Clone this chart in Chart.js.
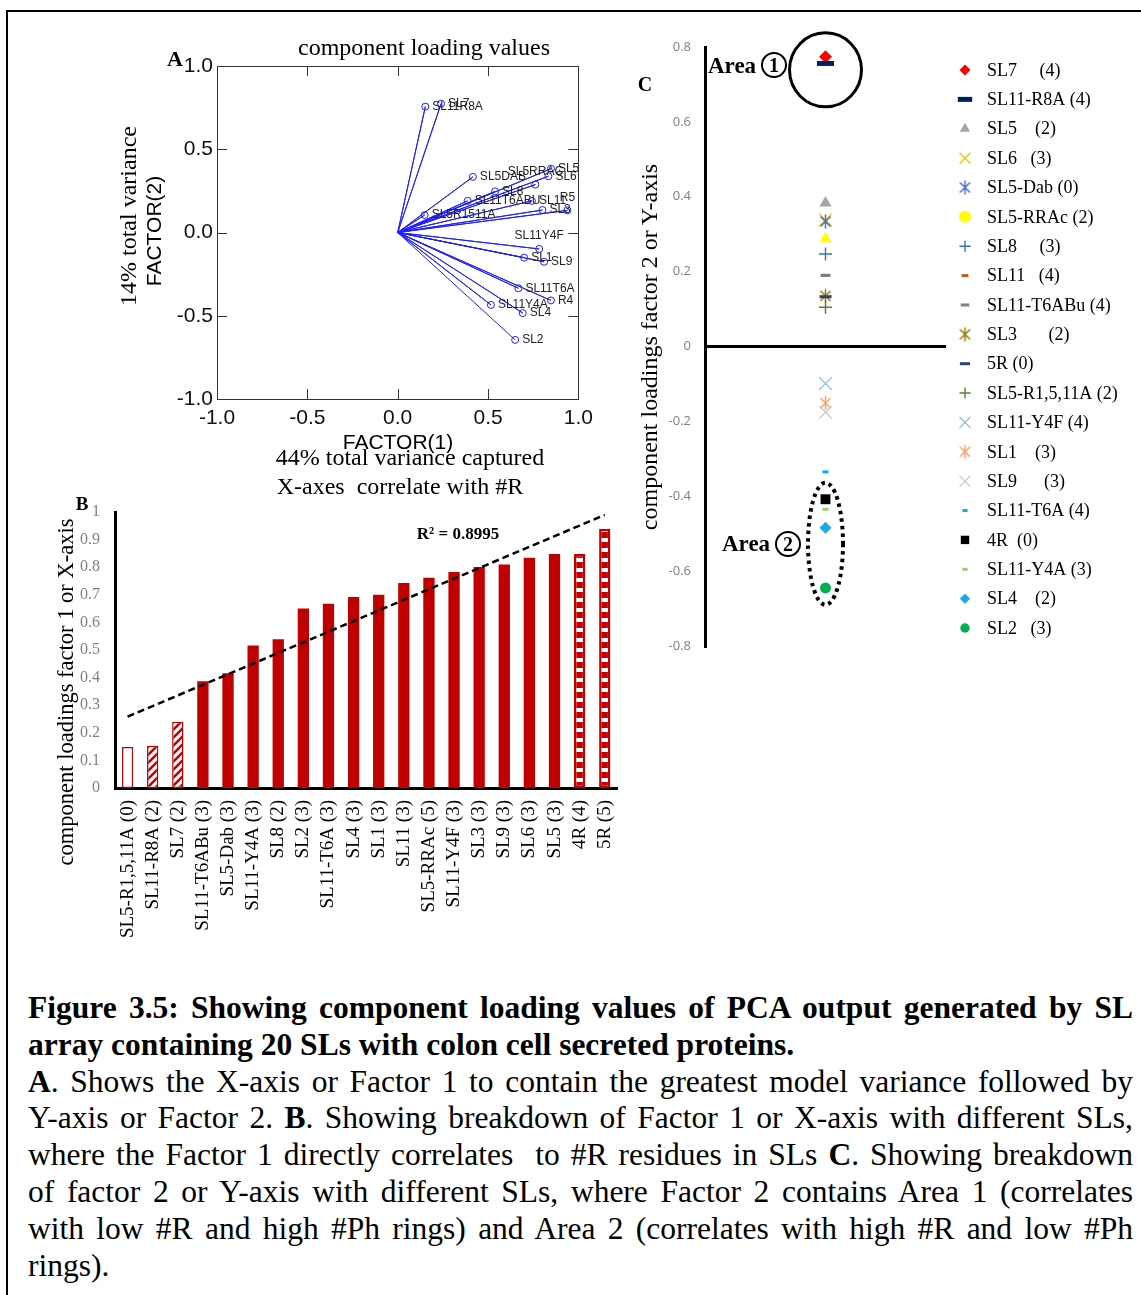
<!DOCTYPE html>
<html>
<head>
<meta charset="utf-8">
<script src="https://cdn.jsdelivr.net/npm/chart.js@4.4.1/dist/chart.umd.min.js"></script>
<style>
html,body{margin:0;padding:0;background:#fff;}
body{width:1141px;height:1295px;position:relative;overflow:hidden;}
#frame{position:absolute;left:6px;top:10px;width:1300px;height:1400px;border:2.5px solid #000;}
canvas{position:absolute;}
.t{position:absolute;white-space:pre;line-height:1;color:#000;font-family:"Liberation Serif","Times New Roman",serif;}
.c{transform:translate(-50%,-50%);}
.r{transform:translate(-50%,-50%) rotate(-90deg);}
.sans{font-family:"Liberation Sans",Arial,sans-serif;}
.b{font-weight:bold;}
.circ{position:absolute;width:26px;height:26px;border:2px solid #000;border-radius:50%;box-sizing:border-box;transform:translate(-50%,-50%);font:bold 20px "Liberation Serif",serif;text-align:center;line-height:22px;}
#cap{position:absolute;left:28px;top:990px;width:1105px;font-family:"Liberation Serif","Times New Roman",serif;font-size:31.5px;line-height:36.8px;color:#000;}
#cap .j{text-align:justify;text-align-last:justify;}
</style>
</head>
<body>
<div id="frame"></div>
<canvas id="ca" width="500" height="440" style="left:100px;top:20px"></canvas>
<canvas id="cb" width="600" height="460" style="left:40px;top:495px"></canvas>
<canvas id="cc" width="511" height="640" style="left:630px;top:30px"></canvas>

<div class="t c" style="left:424px;top:47px;font-size:24px">component loading values</div>
<div class="t c b" style="left:175px;top:59px;font-size:22px">A</div>
<div class="t c sans" style="left:398px;top:441px;font-size:21px">FACTOR(1)</div>
<div class="t c" style="left:410px;top:457px;font-size:24px">44% total variance captured</div>
<div class="t c" style="left:400px;top:486px;font-size:24px">X-axes  correlate with #R</div>
<div class="t r sans" style="left:153px;top:231px;font-size:21px">FACTOR(2)</div>
<div class="t r" style="left:128px;top:216px;font-size:24px">14% total variance</div>

<div class="t c b" style="left:82px;top:503px;font-size:19px">B</div>
<div class="t c b" style="left:458px;top:533px;font-size:17px">R² = 0.8995</div>
<div class="t r" style="left:66px;top:692px;font-size:22.5px">component loadings factor 1 or X-axis</div>

<div class="t c b" style="left:645px;top:84px;font-size:20px">C</div>
<div class="t r" style="left:649px;top:347px;font-size:24px">component loadings factor 2 or Y-axis</div>
<div class="t b" style="left:708px;top:54px;font-size:23px">Area</div>
<div class="circ" style="left:774px;top:65px">1</div>
<div class="t b" style="left:722px;top:532px;font-size:23px">Area</div>
<div class="circ" style="left:788px;top:544px">2</div>

<div id="cap">
<div class="j"><b>Figure 3.5: Showing component loading values of PCA output generated by SL</b></div>
<div><b>array containing 20 SLs with colon cell secreted proteins.</b></div>
<div class="j"><b>A</b>. Shows the X-axis or Factor 1 to contain the greatest model variance followed by</div>
<div class="j">Y-axis or Factor 2. <b>B</b>. Showing breakdown of Factor 1 or X-axis with different SLs,</div>
<div class="j">where the Factor 1 directly correlates&nbsp; to #R residues in SLs <b>C</b>. Showing breakdown</div>
<div class="j">of factor 2 or Y-axis with different SLs, where Factor 2 contains Area 1 (correlates</div>
<div class="j">with low #R and high #Ph rings) and Area 2 (correlates with high #R and low #Ph</div>
<div>rings).</div>
</div>

<script>
// ---------------- DATA ----------------
const slNames = ["SL7","SL11-R8A","SL5","SL6","SL5-Dab","SL5-RRAc","SL8","SL11","SL11-T6ABu","SL3","5R","SL5-R1,5,11A","SL11-Y4F","SL1","SL9","SL11-T6A","4R","SL11-Y4A","SL4","SL2"];
const factor1 = [0.240,0.153,0.848,0.834,0.416,0.762,0.539,0.743,0.387,0.801,0.939,0.149,0.783,0.700,0.810,0.668,0.848,0.516,0.692,0.650];
const factor2 = [0.774,0.756,0.383,0.338,0.334,0.288,0.247,0.190,0.190,0.135,0.133,0.105,-0.099,-0.151,-0.176,-0.335,-0.408,-0.435,-0.484,-0.645];
const plotALabels = ["SL7","SL11R8A","SL5","SL6","SL5DAB","SL5RRAC","SL8","SL11","SL11T6ABU","SL3","R5","SL5R1511A","SL11Y4F","SL1","SL9","SL11T6A","R4","SL11Y4A","SL4","SL2"];
const rResidues = [2,2,3,3,3,5,2,3,3,3,5,0,3,3,3,3,4,3,3,3];
const legendLabels = ["SL7     (4)","SL11-R8A (4)","SL5    (2)","SL6   (3)","SL5-Dab (0)","SL5-RRAc (2)","SL8     (3)","SL11   (4)","SL11-T6ABu (4)","SL3       (2)","5R (0)","SL5-R1,5,11A (2)","SL11-Y4F (4)","SL1    (3)","SL9      (3)","SL11-T6A (4)","4R  (0)","SL11-Y4A (3)","SL4    (2)","SL2   (3)"];
const axisTicksA = [-1.0,-0.5,0.0,0.5,1.0];

// ---------------- STYLES ----------------
const fillKind = {"SL5-R1,5,11A":"hollow","SL11-R8A":"hatch","SL7":"hatch","4R":"stripe","5R":"stripe"};
const markerStyles = [
 {s:'rectRot', r:6.5, w:0, c:'#FF0000'},
 {s:'line', r:8.5, w:5, c:'#002060'},
 {s:'triangle', r:7, w:0, c:'#A5A5A5'},
 {s:'crossRot', r:9, w:1.3, c:'#FFC000'},
 {s:'asterisk', r:7, w:1.5, c:'#4472C4'},
 {s:'triangle', ls:'circle', lr:6, r:7, w:0, c:'#FFFF00'},
 {s:'cross', r:6.5, w:1.4, c:'#2E75B6'},
 {s:'line', r:4, w:3, c:'#C55A11'},
 {s:'line', r:5, w:3, c:'#7F7F7F'},
 {s:'asterisk', r:7, w:1.5, c:'#9C7700'},
 {s:'line', r:6, w:3, c:'#264478'},
 {s:'cross', r:6.5, w:1.4, c:'#548235'},
 {s:'crossRot', r:9, w:1.2, c:'#8DB4E2'},
 {s:'asterisk', r:7, w:1.5, c:'#F4A06B'},
 {s:'crossRot', r:9, w:1.2, c:'#C8C8C8'},
 {s:'line', r:3, w:3, c:'#00B0F0'},
 {s:'rect', r:7, w:0, c:'#000000'},
 {s:'line', r:3, w:3, c:'#9BCB73'},
 {s:'rectRot', r:6, w:0, c:'#1AA7EC'},
 {s:'circle', r:5.5, w:0, c:'#00B050'}
];

function asteriskCanvas(color, r, w){
  const s = Math.ceil(2*r + 2*w + 2);
  const c = document.createElement('canvas'); c.width = s; c.height = s;
  const g = c.getContext('2d'); g.strokeStyle = color; g.lineWidth = w;
  const m = s/2, d = r*0.72;
  g.beginPath();
  g.moveTo(m-d,m-d); g.lineTo(m+d,m+d);
  g.moveTo(m+d,m-d); g.lineTo(m-d,m+d);
  g.moveTo(m,m-r); g.lineTo(m,m+r);
  g.stroke();
  return c;
}
function styleOf(ms, legend){
  const name = legend && ms.ls ? ms.ls : ms.s;
  if (name === 'asterisk') return asteriskCanvas(ms.c, ms.r, ms.w);
  return name;
}
const tickFmt = v => String(Math.round(v*10)/10);
const fixY = w => s => { s.width = w; s.paddingTop = 0; s.paddingBottom = 0; };

// ---------------- PANEL A ----------------
const spokes = [];
const ptsA = [];
factor1.forEach((v,i)=>{ spokes.push({x:0,y:0}); spokes.push({x:v,y:factor2[i]}); ptsA.push({x:v,y:factor2[i]}); });

const frameA = {
  id:'frameA',
  afterDraw(chart){
    const {ctx, chartArea:a, scales:{x,y}} = chart;
    ctx.save();
    ctx.strokeStyle = '#333'; ctx.lineWidth = 1;
    ctx.strokeRect(Math.round(a.left)+0.5, Math.round(a.top)+0.5, Math.round(a.right-a.left), Math.round(a.bottom-a.top));
    const L = 10;
    ctx.beginPath();
    axisTicksA.forEach(v=>{
      if (v<=-1 || v>=1) return;
      const px = Math.round(x.getPixelForValue(v))+0.5;
      ctx.moveTo(px,a.top); ctx.lineTo(px,a.top+L);
      ctx.moveTo(px,a.bottom); ctx.lineTo(px,a.bottom-L);
      const py = Math.round(y.getPixelForValue(v))+0.5;
      ctx.moveTo(a.left,py); ctx.lineTo(a.left+L,py);
      ctx.moveTo(a.right,py); ctx.lineTo(a.right-L,py);
    });
    ctx.stroke();
    ctx.restore();
  }
};
const labelsA = {
  id:'labelsA',
  afterDatasetsDraw(chart){
    const {ctx, chartArea:a} = chart;
    const meta = chart.getDatasetMeta(1);
    ctx.save();
    ctx.font = '12px "Liberation Sans", Arial, sans-serif';
    ctx.fillStyle = '#222'; ctx.textBaseline = 'middle'; ctx.textAlign = 'left';
    meta.data.forEach((el,i)=>{
      const txt = plotALabels[i];
      const w = ctx.measureText(txt).width;
      let lx = el.x + 7, ly = el.y;
      if (lx + w > a.right + 4) { lx = el.x - w/2; ly -= 13; }
      ctx.fillText(txt, lx, ly);
    });
    ctx.restore();
  }
};

new Chart(document.getElementById('ca'), {
  type:'scatter',
  data:{datasets:[
    {type:'line', data:spokes, borderColor:'#1f1fff', borderWidth:1, pointRadius:0, fill:false, tension:0, order:1},
    {type:'scatter', data:ptsA, pointStyle:'circle', pointRadius:3.5, borderColor:'#1f1fff', backgroundColor:'rgba(0,0,0,0)', borderWidth:1, order:0}
  ]},
  options:{
    responsive:false, animation:false, events:[],
    layout:{autoPadding:false, padding:{left:0, top:46, right:20, bottom:21}},
    plugins:{legend:{display:false}, tooltip:{enabled:false}},
    scales:{
      x:{type:'linear', min:-1, max:1, afterFit:s=>{s.height=40;},
         grid:{display:false, drawTicks:false}, border:{display:false},
         ticks:{stepSize:0.5, maxRotation:0, autoSkip:false, padding:7, color:'#111',
                font:{family:'"Liberation Sans", Arial, sans-serif', size:21}, callback:v=>Number(v).toFixed(1)}},
      y:{type:'linear', min:-1, max:1, afterFit:fixY(117),
         grid:{display:false, drawTicks:false}, border:{display:false},
         ticks:{stepSize:0.5, autoSkip:false, padding:4, color:'#111',
                font:{family:'"Liberation Sans", Arial, sans-serif', size:21}, callback:v=>Number(v).toFixed(1)}}
    }
  },
  plugins:[frameA, labelsA]
});

// ---------------- PANEL B ----------------
const order = slNames.map((n,i)=>i).sort((a,b)=>factor1[a]-factor1[b]);
const barLabels = order.map(i=>slNames[i] + ' (' + rResidues[i] + ')');
const barValues = order.map(i=>factor1[i]);
// least-squares trend line from the bar values
const nB = barValues.length;
const mx = (nB+1)/2, my = barValues.reduce((s,v)=>s+v,0)/nB;
let sxy=0, sxx=0;
barValues.forEach((v,k)=>{ const xx=k+1; sxy+=(xx-mx)*(v-my); sxx+=(xx-mx)*(xx-mx); });
const slope = sxy/sxx;
const trend = barValues.map((v,k)=> my + slope*((k+1)-mx));

function makePattern(kind){
  const c = document.createElement('canvas');
  const g = c.getContext('2d');
  if (kind==='hatch'){
    c.width=8; c.height=8;
    g.fillStyle='#fff'; g.fillRect(0,0,8,8);
    g.strokeStyle='#C00000'; g.lineWidth=2.6;
    g.beginPath(); g.moveTo(-2,10); g.lineTo(10,-2); g.moveTo(-2,2); g.lineTo(2,-2); g.moveTo(6,10); g.lineTo(10,6); g.stroke();
  } else {
    c.width=4; c.height=10;
    g.fillStyle='#C00000'; g.fillRect(0,0,4,10);
    g.fillStyle='#fff'; g.fillRect(0,3,4,4);
  }
  return g.createPattern(c,'repeat');
}
const ctxB = document.getElementById('cb').getContext('2d');
const patHatch = makePattern('hatch'), patStripe = makePattern('stripe');
const barFills = order.map(i=>{
  const k = fillKind[slNames[i]];
  if (k==='hollow') return '#FFFFFF';
  if (k==='hatch') return patHatch;
  if (k==='stripe') return patStripe;
  return '#C00000';
});
const barBorders = order.map(i=>{
  const k = fillKind[slNames[i]];
  if (k==='hollow' || k==='hatch') return 1.5;
  if (k==='stripe') return 2.5;
  return 0;
});

new Chart(ctxB, {
  type:'bar',
  data:{labels:barLabels, datasets:[
    {type:'line', data:trend, borderColor:'#000', borderWidth:2.5, borderDash:[7,4], pointRadius:0, fill:false, order:0},
    {type:'bar', data:barValues, backgroundColor:barFills, borderColor:'#C00000', borderWidth:barBorders, borderSkipped:false,
     barPercentage:0.45, categoryPercentage:1, order:1}
  ]},
  options:{
    responsive:false, animation:false, events:[],
    layout:{autoPadding:false, padding:{left:0, top:17, right:18, bottom:7}},
    plugins:{legend:{display:false}, tooltip:{enabled:false}},
    scales:{
      x:{afterFit:s=>{s.height=160;}, grid:{display:false, drawTicks:false}, border:{display:true, color:'#000', width:3},
         ticks:{autoSkip:false, minRotation:90, maxRotation:90, padding:12, color:'#000',
                font:{family:'"Liberation Serif", "Times New Roman", serif', size:19}}},
      y:{min:0, max:1, afterFit:fixY(75), grid:{display:false, drawTicks:false}, border:{display:true, color:'#000', width:3},
         ticks:{stepSize:0.1, padding:15, color:'#808080', callback:tickFmt,
                font:{family:'"Liberation Serif", "Times New Roman", serif', size:16}}}
    }
  }
});

// ---------------- PANEL C ----------------
const areaPlugin = {
  id:'areas',
  afterDraw(chart){
    const {ctx, scales:{x,y}} = chart;
    ctx.save();
    ctx.strokeStyle='#000';
    ctx.lineWidth=3;
    ctx.beginPath(); ctx.ellipse(x.getPixelForValue(1), y.getPixelForValue(0.739), 36, 37, 0, 0, 2*Math.PI); ctx.stroke();
    ctx.lineWidth=4; ctx.setLineDash([3.5,4]);
    ctx.beginPath(); ctx.ellipse(x.getPixelForValue(1), y.getPixelForValue(-0.527), 17.5, 61, 0, 0, 2*Math.PI); ctx.stroke();
    ctx.restore();
  }
};
const legendPlugin = {
  id:'legendC',
  afterDraw(chart){
    const ctx = chart.ctx, a = chart.chartArea;
    const mxp = a.right + 19, tx = a.right + 41, y0 = 40, dy = 29.37;
    const dp = Chart.helpers && Chart.helpers.drawPoint;
    ctx.save();
    legendLabels.forEach((lab,i)=>{
      const y = y0 + i*dy;
      const ms = markerStyles[i];
      ctx.save();
      ctx.fillStyle = ms.c; ctx.strokeStyle = ms.c; ctx.lineWidth = ms.w || 0;
      const r = ms.lr || ms.r*0.85;
      if (dp) dp(ctx, {pointStyle:styleOf(ms,true), radius:r, borderWidth:ms.w||0, rotation:0}, mxp, y);
      ctx.restore();
      ctx.font = '18px "Liberation Serif", "Times New Roman", serif';
      ctx.fillStyle = '#000'; ctx.textBaseline = 'middle'; ctx.textAlign = 'left';
      ctx.fillText(lab, tx, y+1);
    });
    ctx.restore();
  }
};

new Chart(document.getElementById('cc'), {
  type:'scatter',
  data:{datasets: slNames.map((n,i)=>{
    const ms = markerStyles[i];
    return {label:n, data:[{x:1, y:factor2[i]}], pointStyle:styleOf(ms,false), pointRadius:ms.r,
            borderWidth:ms.w||0, borderColor:ms.c, backgroundColor:ms.c, order:slNames.length-i};
  })},
  options:{
    responsive:false, animation:false, events:[],
    layout:{autoPadding:false, padding:{left:0, top:17, right:195, bottom:24}},
    plugins:{legend:{display:false}, tooltip:{enabled:false}},
    scales:{
      x:{type:'linear', min:0, max:2, display:false},
      y:{min:-0.8, max:0.8, afterFit:fixY(75),
         grid:{drawTicks:false, color:c=> (c.tick && Math.abs(c.tick.value)<1e-9) ? '#000' : 'rgba(0,0,0,0)', lineWidth:3},
         border:{display:true, color:'#000', width:3},
         ticks:{stepSize:0.2, padding:14, color:'#7F7F7F', callback:tickFmt, font:{family:'"Open Sans", sans-serif', size:13}}}
    }
  },
  plugins:[areaPlugin, legendPlugin]
});
</script>
</body>
</html>
